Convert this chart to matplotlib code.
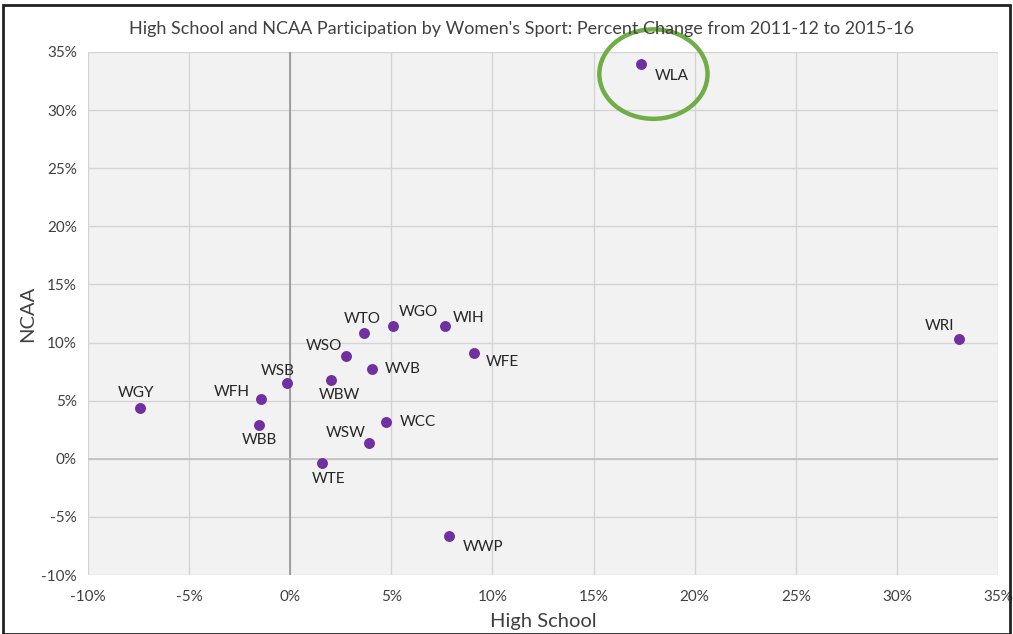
import matplotlib
matplotlib.use("Agg")
import matplotlib.pyplot as plt
from matplotlib.patches import Ellipse, Rectangle
from matplotlib.ticker import FuncFormatter, MultipleLocator

plt.rcParams['font.family'] = ['Lato', 'DejaVu Sans']

sports = ["WLA", "WRI", "WGY", "WFH", "WBB", "WSB", "WBW", "WSO", "WTO", "WGO",
          "WIH", "WFE", "WVB", "WCC", "WSW", "WTE", "WWP"]
high_school = [17.35, 33.05, -7.41, -1.43, -1.54, -0.15, 2.03, 2.77, 3.63, 5.10,
               7.64, 9.11, 4.06, 4.75, 3.88, 1.55, 7.84]
ncaa = [33.98, 10.31, 4.36, 5.12, 2.92, 6.51, 6.78, 8.83, 10.85, 11.40,
        11.40, 9.14, 7.75, 3.16, 1.36, -0.34, -6.62]
# label offsets in points (dx, dy, ha, va)
label_pos = {
    "WLA": (10, -4, "left", "top"),
    "WRI": (-3, 4, "right", "bottom"),
    "WGY": (-3, 6, "center", "bottom"),
    "WFH": (-8, 0, "right", "bottom"),
    "WBB": (0, -6, "center", "top"),
    "WSB": (-7, 4, "center", "bottom"),
    "WBW": (6, -6, "center", "top"),
    "WSO": (-3, 2, "right", "bottom"),
    "WTO": (-1, 5, "center", "bottom"),
    "WGO": (4, 5, "left", "bottom"),
    "WIH": (6, 1, "left", "bottom"),
    "WFE": (8, -2, "left", "top"),
    "WVB": (9, 0, "left", "center"),
    "WCC": (10, 0, "left", "center"),
    "WSW": (-2, 2, "right", "bottom"),
    "WTE": (5, -7, "center", "top"),
    "WWP": (10, -3, "left", "top"),
}

fig = plt.figure(figsize=(10.13, 6.34), dpi=100)
ax = fig.add_axes([0.0869, 0.093, 0.8983, 0.825])
ax.set_facecolor("#f2f2f2")
ax.set_xlim(-10, 35)
ax.set_ylim(-10, 35)
ax.xaxis.set_major_locator(MultipleLocator(5))
ax.yaxis.set_major_locator(MultipleLocator(5))
fmt = FuncFormatter(lambda v, p: f"{v:.0f}%")
ax.xaxis.set_major_formatter(fmt)
ax.yaxis.set_major_formatter(fmt)
ax.grid(True, color="#d4d4d4", linewidth=1.0)
ax.set_axisbelow(True)
ax.axvline(0, color="#8c8c8c", linewidth=1.1, zorder=1)
ax.axhline(0, color="#bdbdbd", linewidth=1.1, zorder=1)
for s in ax.spines.values():
    s.set_visible(False)
ax.tick_params(length=0, labelsize=11, colors="#404040")
ax.tick_params(axis="x", pad=11)
ax.tick_params(axis="y", pad=8)

ax.scatter(high_school, ncaa, s=62, color="#7030a0", zorder=3, linewidths=0)
for name, x, y in zip(sports, high_school, ncaa):
    dx, dy, ha, va = label_pos[name]
    ax.annotate(name, (x, y), xytext=(dx, dy), textcoords="offset points",
                ha=ha, va=va, fontsize=11, color="#262626", zorder=4)

ell = Ellipse((17.96, 33.1), 5.35, 7.7, fill=False, edgecolor="#70ad47",
              linewidth=3.2, clip_on=False, zorder=5)
ax.add_patch(ell)

ax.set_xlabel("High School", fontsize=14.5, color="#404040", labelpad=6)
ax.set_ylabel("NCAA", fontsize=14.5, color="#404040", labelpad=4)
fig.text(0.515, 0.955, "High School and NCAA Participation by Women's Sport: Percent Change from 2011-12 to 2015-16",
         ha="center", va="center", fontsize=13, color="#404040")

fig.patches.append(Rectangle((0.003, 0.0), 0.994, 0.992, transform=fig.transFigure,
                             fill=False, edgecolor="#222222", linewidth=2.0))

fig.savefig("out.png", dpi=100)
